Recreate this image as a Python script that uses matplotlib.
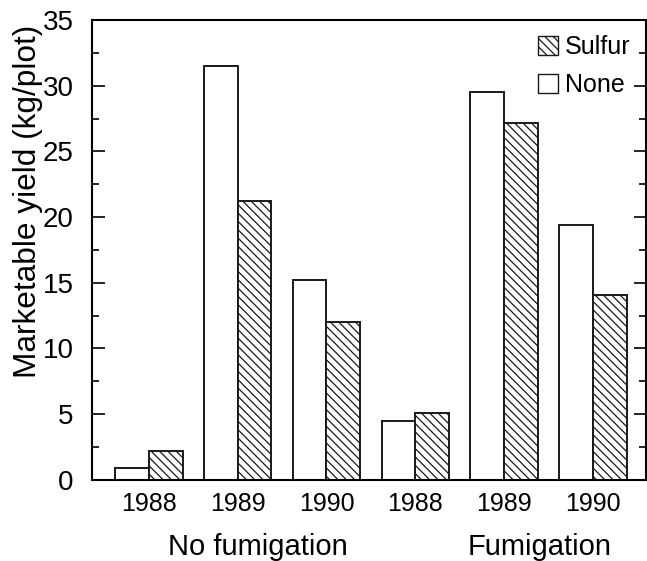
import numpy as np
import matplotlib
matplotlib.use('Agg')
import matplotlib.pyplot as plt
from matplotlib.patches import Patch
from matplotlib.ticker import MultipleLocator

plt.rcParams['font.family'] = ['Liberation Sans', 'DejaVu Sans']
plt.rcParams['hatch.linewidth'] = 0.9

# Data
years = ["1988", "1989", "1990", "1988", "1989", "1990"]
groups = ["No fumigation", "Fumigation"]
none_yield = [0.9, 31.5, 15.2, 4.5, 29.5, 19.4]
sulfur_yield = [2.2, 21.2, 12.0, 5.1, 27.2, 14.1]

x = np.arange(len(years))
width = 0.38

fig = plt.figure(figsize=(6.47, 5.61), dpi=100)
ax = fig.add_axes([0.142, 0.145, 0.857, 0.819])

ax.bar(x - width / 2, none_yield, width, color='white', edgecolor='#1a1a1a',
       linewidth=1.4, label='None')
ax.bar(x + width / 2, sulfur_yield, width, color='white', edgecolor='#1a1a1a',
       linewidth=1.4, hatch='\\\\\\\\', label='Sulfur')

ax.set_xlim(-0.64, 5.6)
ax.set_ylim(0, 35)
ax.yaxis.set_major_locator(MultipleLocator(5))
ax.yaxis.set_minor_locator(MultipleLocator(2.5))
ax.set_xticks(x)
ax.set_xticklabels(years, fontsize=18)

ax.tick_params(axis='y', which='major', direction='in', length=9, width=1.2,
               labelsize=20, pad=13, right=True)
ax.tick_params(axis='y', which='minor', direction='in', length=4.8, width=1.2,
               right=True)
ax.tick_params(axis='x', length=0, pad=9)
for sp in ax.spines.values():
    sp.set_linewidth(1.5)

ax.set_ylabel('Marketable yield (kg/plot)', fontsize=22.8)
ax.yaxis.set_label_coords(-0.088, 0.606)

# group labels under the year labels
ax.text(1.23, -0.163, groups[0], transform=ax.get_xaxis_transform(),
        ha='center', va='baseline', fontsize=21)
ax.text(4.40, -0.163, groups[1], transform=ax.get_xaxis_transform(),
        ha='center', va='baseline', fontsize=21)

handles = [Patch(facecolor='white', edgecolor='#1a1a1a', hatch='\\\\\\\\', label='Sulfur'),
           Patch(facecolor='white', edgecolor='#1a1a1a', label='None')]
ax.legend(handles=handles, loc='upper right', frameon=False, fontsize=18,
          handlelength=0.8, handleheight=0.8, handletextpad=0.25,
          labelspacing=0.55, borderaxespad=0.2, bbox_to_anchor=(0.998, 1.0))

fig.savefig('out.png', dpi=100)
